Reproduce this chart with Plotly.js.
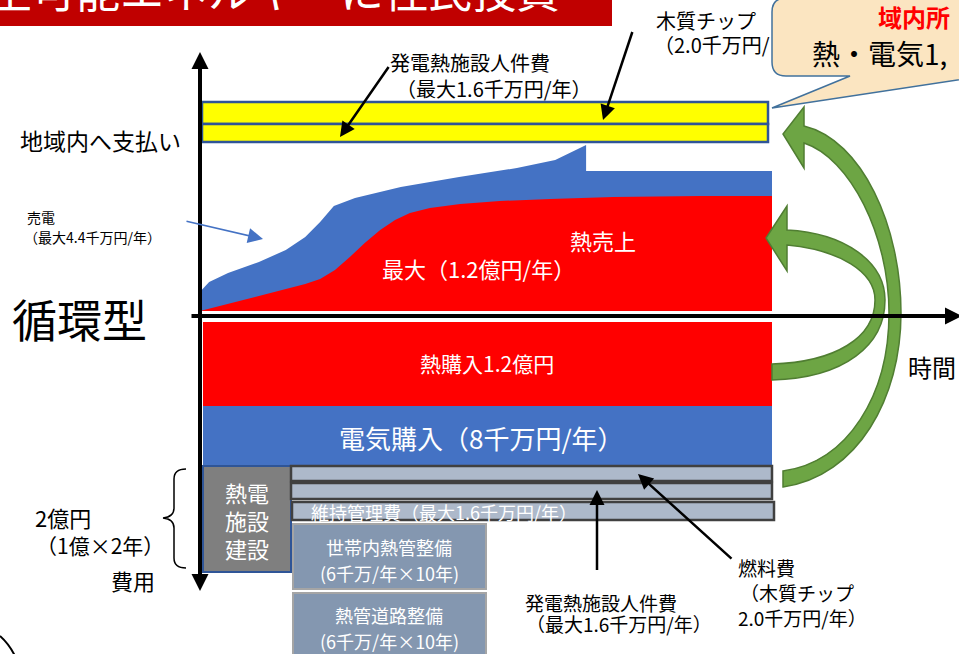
<!DOCTYPE html>
<html>
<head>
<meta charset="utf-8">
<script src="https://cdn.plot.ly/plotly-3.0.1.min.js"></script>
<style>
  html, body { margin: 0; padding: 0; background: #fff; }
  #chart { width: 959px; height: 654px; }
</style>
</head>
<body>
<div id="chart"></div>
<script>
// 熱売上（百万円/年）と売電の上端、経過年
const heatYears = [0, 0.87, 1.84, 2.10, 2.36, 2.62, 2.88, 3.15, 3.41, 3.67, 4.02, 4.55, 5.24, 6.12, 7.22, 8.74, 10];
const heatSales = [5, 18, 32, 37, 46, 59, 73, 86, 96, 103, 108, 112, 115, 117, 119, 120, 120];
const powerYears = [0, 0, 0.03, 0.16, 0.49, 1.03, 1.50, 1.84, 2.10, 2.34, 2.71, 3.51, 4.53, 5.54, 6.21, 6.75, 6.75, 10];
const powerTop = [5, 16, 26, 34, 43, 54, 66, 79, 94, 110, 118, 129, 139, 148, 156, 171, 145, 145];

const purchaseLabels = ['熱購入1.2億円', '電気購入（8千万円/年）'];
const facilityLines = ['熱電', '施設', '建設'];
const pipeBoxes = [['世帯内熱管整備', '(6千万/年×10年)'], ['熱管道路整備', '(6千万/年×10年)']];
const costNote = ['2億円', '（1億×2年）', '費用'];

// 画面座標 → データ座標（原点 x=200px, y=316px、1年=57.2px）
const PX = 57.2;
const X = p => (p - 200) / PX;
const Y = p => 316 - p;
const FONT = '"Noto Sans CJK JP", "Noto Sans", sans-serif';

function rect(x0, y0, x1, y1, fill, line, lw) {
    return {
        type: 'rect', xref: 'x', yref: 'y', layer: 'above',
        x0: X(x0), x1: X(x1), y0: Y(y0), y1: Y(y1),
        fillcolor: fill,
        line: {color: line || 'rgba(0,0,0,0)', width: line ? lw : 0}
    };
}

function path(segs, fill, line, lw) {
    const d = segs.map(s => s[0] + s.slice(1).map(p => X(p[0]).toFixed(4) + ',' + Y(p[1]).toFixed(2)).join(' ')).join(' ');
    return {
        type: 'path', xref: 'x', yref: 'y', layer: 'above', path: d,
        fillcolor: fill || 'rgba(0,0,0,0)',
        line: {color: line, width: lw}
    };
}

function txt(text, x, y, size, opts = {}) {
    return {
        text, x: X(x), y: Y(y), xref: 'x', yref: 'y', showarrow: false,
        xanchor: opts.anchor || 'left', yanchor: 'middle',
        font: {family: FONT, size, color: opts.color || '#000', weight: opts.weight || 'normal'}
    };
}

function arr(x0, y0, x1, y1, color, width, size) {
    return {
        text: ' ', font: {size: 1},
        x: X(x1), y: Y(y1), ax: X(x0), ay: Y(y0),
        xref: 'x', yref: 'y', axref: 'x', ayref: 'y',
        showarrow: true, arrowhead: 2, arrowsize: size, arrowwidth: width, arrowcolor: color
    };
}

const traces = [
    {   // 売電
        x: [...powerYears, 10, 0], y: [...powerTop, 5, 5],
        type: 'scatter', mode: 'lines', fill: 'toself',
        fillcolor: '#4472C4', line: {width: 0, color: '#4472C4'}, hoverinfo: 'skip'
    },
    {   // 熱売上
        x: [...heatYears, 10, 0], y: [...heatSales, 5, 5],
        type: 'scatter', mode: 'lines', fill: 'toself',
        fillcolor: '#FF0000', line: {width: 0, color: '#FF0000'}, hoverinfo: 'skip'
    }
];

const shapes = [
    // タイトル帯
    rect(0, -5, 612, 26, '#C00000'),
    // 地域内へ支払い（黄色）
    rect(202, 102, 768, 124, '#FFFF00', '#2F5597', 2.5),
    rect(202, 124, 768, 142, '#FFFF00', '#2F5597', 2.5),
    // 購入ブロック
    rect(203, 322, 772, 406, '#FF0000'),
    rect(203, 406, 772, 465, '#4472C4'),
    // 熱電施設建設
    rect(203, 466, 291, 572, '#7F7F7F', '#2F5597', 2),
    // 人件費・燃料費・維持管理費
    rect(291, 466, 772, 481, '#ADB9CA', '#404040', 2.5),
    rect(291, 483, 772, 499, '#ADB9CA', '#404040', 2.5),
    rect(292, 502, 774, 520, '#ADB9CA', '#404040', 2.5),
    // 熱管整備
    rect(293, 524, 486, 589, '#8497B0', '#A5A5A5', 2),
    rect(293, 593, 486, 670, '#8497B0', '#A5A5A5', 2),
    // 吹き出し
    path([['M', [1010, -2]], ['L', [786, -2]], ['Q', [772, -2], [772, 12]], ['L', [772, 62]],
          ['Q', [772, 76], [786, 76]], ['L', [850, 76]], ['L', [772, 108]], ['L', [1010, 72]], ['Z']],
         '#FBE5C1', '#41719C', 1.5),
    // 緑の矢印（大）
    path([['M', [804, 107]], ['L', [783, 134]], ['L', [804, 168]], ['L', [804, 143]],
          ['C', [850, 158], [889, 235], [889, 313]], ['C', [889, 395], [848, 462], [783, 471]],
          ['L', [783, 487]], ['C', [858, 476], [901, 398], [901, 313]],
          ['C', [901, 226], [862, 140], [804, 126]], ['Z']],
         '#6DA544', '#507E32', 1.5),
    // 緑の矢印（小）
    path([['M', [787, 206]], ['L', [766, 238]], ['L', [787, 271]], ['L', [787, 245]],
          ['C', [840, 250], [875, 272], [875, 300]], ['C', [875, 338], [835, 362], [772, 364]],
          ['L', [772, 380]], ['C', [845, 378], [885, 345], [885, 300]],
          ['C', [885, 262], [845, 233], [787, 230]], ['Z']],
         '#6DA544', '#507E32', 1.5),
    // 中括弧
    path([['M', [186, 469]], ['Q', [174, 469], [174, 479]], ['L', [174, 508]], ['Q', [174, 517], [163, 518]],
          ['Q', [174, 519], [174, 528]], ['L', [174, 558]], ['Q', [174, 568], [186, 568]]],
         null, '#000', 1.5),
    // 左下の枠
    path([['M', [0, 636]], ['Q', [9, 644], [15, 656]]], null, '#000', 2)
];

const annotations = [
    {   // タイトル（上半分は画面外）
        text: '再生可能エネルギーに住民投資', xref: 'paper', yref: 'paper',
        x: 562 / 959, y: 1 + 11 / 654, xanchor: 'right', yanchor: 'middle', showarrow: false,
        font: {family: FONT, size: 44, color: '#fff'}
    },
    txt('木質チップ', 654, 20, 20),
    txt('（2.0千万円/', 652, 44, 20),
    txt('域内所', 876, 16, 24, {color: '#FF0000', weight: 'bold'}),
    txt('熱・電気1,', 810, 53, 28),
    txt('発電熱施設人件費', 388, 62, 20),
    txt('（最大1.6千万円/年）', 394, 88, 20),
    txt('地域内へ支払い', 18, 140, 23),
    txt('売電', 25, 217, 14),
    txt('（最大4.4千万円/年）', 22, 237, 14),
    txt('熱売上', 603, 240, 22, {anchor: 'center', color: '#fff'}),
    txt('最大（1.2億円/年）', 478, 268, 22, {anchor: 'center', color: '#fff'}),
    txt('循環型', 10, 318, 45),
    txt('時間', 906, 366, 24),
    txt(purchaseLabels[0], 487, 363, 21, {anchor: 'center', color: '#fff'}),
    txt(purchaseLabels[1], 481, 437, 26, {anchor: 'center', color: '#fff'}),
    txt('維持管理費（最大1.6千万円/年）', 309, 512, 18, {color: '#fff'}),
    txt(costNote[0], 33, 517, 22),
    txt(costNote[1], 34, 545, 21),
    txt(costNote[2], 109, 580, 22),
    txt('発電熱施設人件費', 523, 602, 19),
    txt('（最大1.6千万円/年）', 524, 623, 19),
    txt('燃料費', 736, 567, 19),
    txt('（木質チップ', 738, 592, 19),
    txt('2.0千万円/年）', 736, 617, 19),
    // 矢印
    arr(200, 320, 200, 52, '#000', 4, 0.85),
    arr(200, 312, 200, 591, '#000', 4, 0.85),
    arr(190, 316, 962, 316, '#000', 4, 0.85),
    arr(390, 65, 340, 137, '#000', 2.5, 1.2),
    arr(633, 30, 603, 120, '#000', 2.5, 1.2),
    arr(597, 572, 597, 490, '#000', 2.5, 1.2),
    arr(733, 560, 638, 474, '#000', 2.5, 1.2),
    arr(185, 221, 263, 239, '#4472C4', 1.5, 2)
];

facilityLines.forEach((s, i) => {
    annotations.push(txt(s, 247, 492 + i * 28, 22, {anchor: 'center', color: '#fff'}));
});
pipeBoxes.forEach((b, i) => {
    annotations.push(txt(b[0], 389, 547 + i * 68, 18, {anchor: 'center', color: '#fff'}));
    annotations.push(txt(b[1], 389, 573 + i * 68, 18, {anchor: 'center', color: '#fff'}));
});

const layout = {
    width: 959,
    height: 654,
    margin: {t: 0, b: 0, l: 0, r: 0},
    xaxis: {range: [X(0), X(959)], visible: false, fixedrange: true},
    yaxis: {range: [Y(654), Y(0)], visible: false, fixedrange: true},
    showlegend: false,
    plot_bgcolor: 'white',
    paper_bgcolor: 'white',
    shapes,
    annotations
};

Plotly.newPlot('chart', traces, layout, {staticPlot: true});
</script>
</body>
</html>
